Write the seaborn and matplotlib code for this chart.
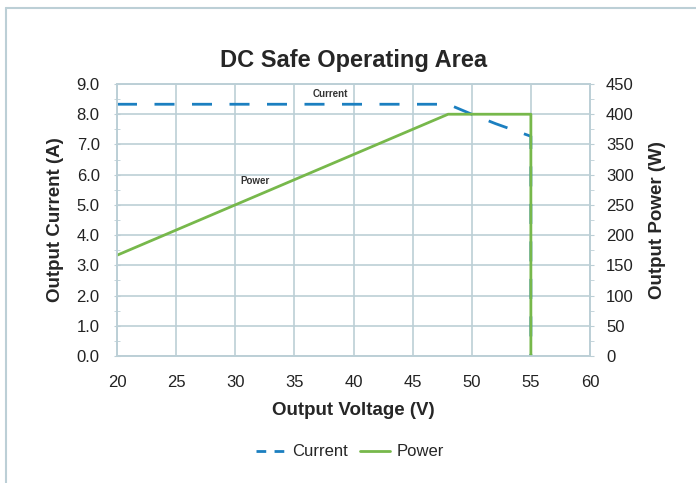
import numpy as np
import pandas as pd
import seaborn as sns
import matplotlib.pyplot as plt
from matplotlib.lines import Line2D
from matplotlib.ticker import MultipleLocator, FormatStrFormatter

# data
volt_current = [20, 48, 50, 52, 55, 55]
current_a = [8.33, 8.33, 8.0, 7.69, 7.27, 0.0]
volt_power = [20, 48, 55, 55]
power_w = [166.7, 400, 400, 0]

BLUE = "#1b7fc0"
GREEN = "#77b84b"
GRIDC = "#bccfd6"

sns.set_style("white")
plt.rcParams["font.family"] = ["Liberation Sans", "DejaVu Sans"]

fig = plt.figure(figsize=(6.96, 4.83), dpi=100)
ax = fig.add_axes([117 / 696, 1 - 356 / 483, (590 - 117) / 696, (356 - 84) / 483])
ax2 = ax.twinx()

df_c = pd.DataFrame({"V": volt_current, "A": current_a})
df_p = pd.DataFrame({"V": volt_power, "W": power_w})

sns.lineplot(data=df_c, x="V", y="A", ax=ax, color=BLUE, lw=2, sort=False,
             estimator=None)
ax.lines[-1].set_dashes([7.2, 6.3])
sns.lineplot(data=df_p, x="V", y="W", ax=ax2, color=GREEN, lw=2, sort=False,
             estimator=None)

ax.set_xlim(20, 60)
ax.set_ylim(0, 9)
ax2.set_ylim(0, 450)
ax.xaxis.set_major_locator(MultipleLocator(5))
ax.yaxis.set_major_locator(MultipleLocator(1))
ax.yaxis.set_minor_locator(MultipleLocator(0.5))
ax.yaxis.set_major_formatter(FormatStrFormatter("%.1f"))
ax2.yaxis.set_major_locator(MultipleLocator(50))
ax2.yaxis.set_minor_locator(MultipleLocator(25))

ax.grid(True, color=GRIDC, lw=1.2)
ax.set_axisbelow(True)
for a in (ax, ax2):
    for s in a.spines.values():
        s.set_color(GRIDC)
        s.set_linewidth(1.2)
    a.tick_params(which="both", colors=GRIDC, labelcolor="#222222", labelsize=12)
ax.tick_params(axis="y", which="both", direction="inout", length=5, pad=10)
ax.tick_params(axis="x", direction="out", length=3, pad=11)
ax2.tick_params(axis="y", which="both", direction="out", length=3, pad=8.5)

ax.set_xlabel("Output Voltage (V)", fontsize=13.5, fontweight="bold", labelpad=8)
ax.set_ylabel("Output Current (A)", fontsize=13.5, fontweight="bold", labelpad=9)
ax2.set_ylabel("Output Power (W)", fontsize=13.5, fontweight="bold", labelpad=11)
ax.set_title("DC Safe Operating Area", fontsize=17, fontweight="bold", pad=12)

ax.text(38.0, 8.67, "Current", fontsize=7, fontweight="bold", ha="center",
        va="center", color="#333333")
ax.text(31.7, 5.8, "Power", fontsize=7, fontweight="bold", ha="center",
        va="center", color="#333333")

handles = [Line2D([], [], color=BLUE, lw=2, dashes=[3.5, 3]),
           Line2D([], [], color=GREEN, lw=2)]
fig.legend(handles, ["Current", "Power"], loc="center", ncol=2,
           bbox_to_anchor=(350 / 696, 1 - 452 / 483), frameon=False,
           fontsize=12, handlelength=1.8, handletextpad=0.4, columnspacing=0.7)

# outer chart border (runs off the right and bottom edges)
fig.add_artist(Line2D([6 / 696, 1.0], [1 - 8 / 483, 1 - 8 / 483],
                      transform=fig.transFigure, color=GRIDC, lw=1.5))
fig.add_artist(Line2D([6 / 696, 6 / 696], [0.0, 1 - 8 / 483],
                      transform=fig.transFigure, color=GRIDC, lw=1.5))

fig.savefig("out.png", dpi=100)
